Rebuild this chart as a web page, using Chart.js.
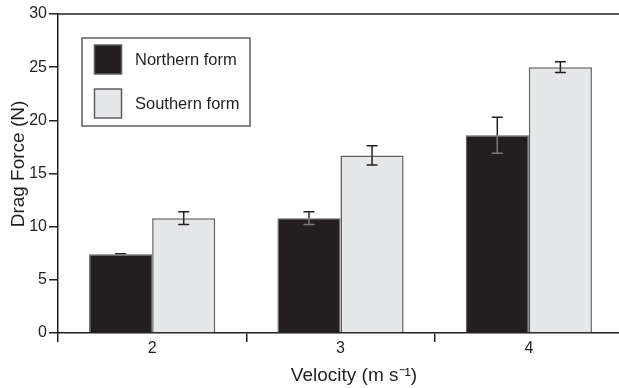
<!DOCTYPE html>
<html>
<head>
<meta charset="utf-8">
<script src="https://cdn.jsdelivr.net/npm/chart.js@4/dist/chart.umd.min.js"></script>
<style>
  html, body { margin: 0; padding: 0; background: #fff; overflow: hidden; width: 619px; height: 388px; }
  #c { display: block; }
</style>
</head>
<body>
<canvas id="c" width="623" height="388"></canvas>
<script>
// ---- data ----
const categories = ['2', '3', '4'];
const seriesNames = ['Northern form', 'Southern form'];
const northern = [7.4, 10.8, 18.6];
const northernErr = [0.05, 0.6, 1.7];
const southern = [10.8, 16.7, 25.0];
const southernErr = [0.6, 0.9, 0.5];
const yTicks = [0, 5, 10, 15, 20, 25, 30];
const xTitle = 'Velocity (m s⁻¹)';
const yTitle = 'Drag Force (N)';

const INK = '#231f20';
const DARK = '#231f20';
const LIGHT = '#e6e7e8';
const EDGE = '#5e5e60';
const FONT = 'Liberation Sans, Arial, Helvetica, sans-serif';

const errors = [northernErr, southernErr];

const errorBarPlugin = {
  id: 'errorBars',
  afterDatasetsDraw(chart) {
    const ctx = chart.ctx;
    const y = chart.scales.y;
    chart.data.datasets.forEach((ds, di) => {
      const meta = chart.getDatasetMeta(di);
      meta.data.forEach((bar, i) => {
        const v = ds.data[i];
        const e = errors[di][i];
        const x = bar.x;
        const yTop = y.getPixelForValue(v + e);
        const yBot = y.getPixelForValue(v - e);
        const yVal = y.getPixelForValue(v);
        const cap = 5.5;
        ctx.save();
        ctx.lineWidth = 1.5;
        ctx.strokeStyle = INK;
        ctx.beginPath();
        ctx.moveTo(x, yTop); ctx.lineTo(x, yVal);
        ctx.moveTo(x - cap, yTop); ctx.lineTo(x + cap, yTop);
        ctx.stroke();
        ctx.strokeStyle = di === 0 ? '#7a7a7c' : INK;
        ctx.beginPath();
        ctx.moveTo(x, yVal); ctx.lineTo(x, yBot);
        ctx.moveTo(x - cap, yBot); ctx.lineTo(x + cap, yBot);
        ctx.stroke();
        ctx.restore();
      });
    });
  }
};

const framePlugin = {
  id: 'frameAndLegend',
  afterDraw(chart) {
    const ctx = chart.ctx;
    const a = chart.chartArea;
    ctx.save();
    // top frame line
    ctx.strokeStyle = INK;
    ctx.lineWidth = 1.5;
    ctx.beginPath();
    ctx.moveTo(a.left, a.top);
    ctx.lineTo(chart.width, a.top);
    ctx.stroke();
    // legend box
    const lx = a.left + 24, ly = a.top + 24;
    ctx.strokeStyle = EDGE;
    ctx.lineWidth = 1.5;
    ctx.strokeRect(lx, ly, 168, 88);
    chart.data.datasets.forEach((ds, i) => {
      const sy = ly + 7 + i * 44;
      ctx.fillStyle = ds.backgroundColor;
      ctx.fillRect(lx + 12.5, sy, 27, 29);
      ctx.strokeStyle = EDGE;
      ctx.lineWidth = 1.5;
      ctx.strokeRect(lx + 12.5, sy, 27, 29);
      ctx.fillStyle = INK;
      ctx.font = '16.5px ' + FONT;
      ctx.textBaseline = 'middle';
      ctx.textAlign = 'left';
      ctx.fillText(ds.label, lx + 53, sy + 15);
    });
    // axis titles
    ctx.fillStyle = INK;
    ctx.font = '19px ' + FONT;
    ctx.textAlign = 'center';
    ctx.textBaseline = 'alphabetic';
    ctx.fillText(xTitle, a.left + 296, 380.5);
    ctx.save();
    ctx.translate(24, a.top + 150);
    ctx.rotate(-Math.PI / 2);
    ctx.fillText(yTitle, 0, 0);
    ctx.restore();
    ctx.restore();
  }
};

new Chart(document.getElementById('c'), {
  type: 'bar',
  data: {
    labels: categories,
    datasets: [
      { label: seriesNames[0], data: northern, backgroundColor: DARK, borderColor: EDGE, borderWidth: 1.2 },
      { label: seriesNames[1], data: southern, backgroundColor: LIGHT, borderColor: EDGE, borderWidth: 1.5 }
    ]
  },
  options: {
    responsive: false,
    animation: false,
    devicePixelRatio: 1,
    layout: { padding: { top: 14, right: 0, bottom: 0, left: 0 } },
    categoryPercentage: 0.67,
    barPercentage: 1.0,
    plugins: { legend: { display: false }, tooltip: { enabled: false } },
    scales: {
      x: {
        z: 1,
        offset: true,
        grid: { offset: true, drawOnChartArea: false, drawTicks: true, tickLength: 9, color: INK, lineWidth: 1.5 },
        border: { display: true, color: INK, width: 1.5 },
        ticks: { color: INK, font: { family: FONT, size: 16 }, padding: -3 },
        title: { display: false },
        afterFit(s) { s.height = 55; }
      },
      y: {
        z: 1,
        min: 0, max: 30,
        afterBuildTicks(s) { s.ticks = yTicks.map(v => ({ value: v })); },
        grid: { drawOnChartArea: false, drawTicks: true, tickLength: 9, color: INK, lineWidth: 1.5 },
        border: { display: true, color: INK, width: 1.5 },
        ticks: { color: INK, font: { family: FONT, size: 16 }, padding: 2 },
        title: { display: false },
        afterFit(s) { s.width = 58; }
      }
    }
  },
  plugins: [errorBarPlugin, framePlugin]
});
</script>
</body>
</html>
